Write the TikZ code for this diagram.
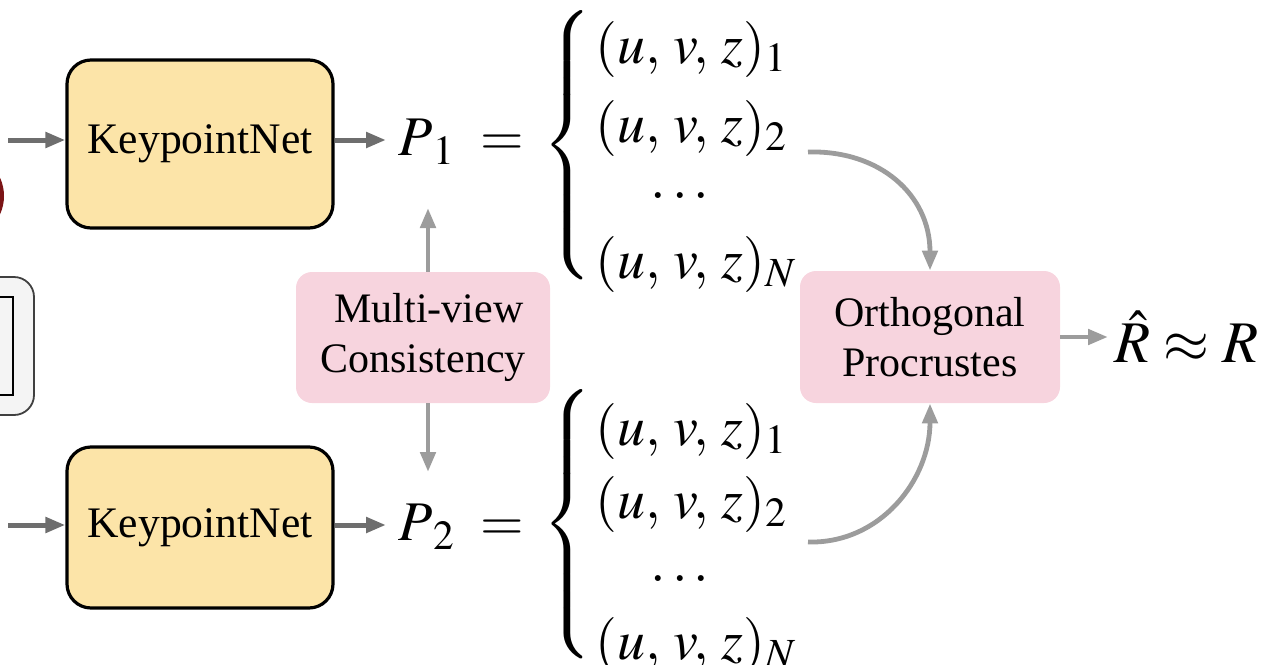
\documentclass[tikz,border=0pt]{standalone}
\usepackage{mathptmx}
\usepackage[no-math]{fontspec}
\setmainfont{Liberation Serif}
\usetikzlibrary{arrows.meta}

\definecolor{kpfill}{HTML}{FCE4A8}
\definecolor{opfill}{HTML}{F7D4DE}
\definecolor{darkgrayarrow}{HTML}{6E6E6E}
\definecolor{lightgrayarrow}{HTML}{9C9C9C}
\definecolor{panelfill}{HTML}{F4F4F4}
\definecolor{imgred}{HTML}{7B1416}

\tikzset{
  txt/.style={font=\fontsize{21}{25}\selectfont},
  mth/.style={font=\fontsize{28}{34}\selectfont, inner sep=0pt},
  netbox/.style={font=\fontsize{21.8}{26}\selectfont, draw=black,
    line width=1.6pt, fill=kpfill, rounded corners=12pt,
    minimum width=133pt, align=center},
  opbox/.style={txt, fill=opfill, rounded corners=8pt,
    minimum width=127pt, minimum height=65.5pt, align=center},
  mathrow/.style={mth, anchor=west},
  darkarrow/.style={draw=darkgrayarrow, line width=2.5pt,
    -{Triangle[length=10pt,width=7.5pt]}},
  lightarrow/.style={draw=lightgrayarrow, line width=2.4pt,
    -{Triangle[length=10pt,width=7.5pt]}},
}

\begin{document}
\begin{tikzpicture}[x=0.5pt,y=-0.5pt]
\useasboundingbox (0,0) rectangle (1266,665);
\clip (0,0) rectangle (1266,665);

% pieces of the input panel at the left edge
\fill[imgred] (-40,196) circle[radius=44];
\draw[fill=panelfill, draw=black!75, line width=0.9pt, rounded corners=10pt]
  (-60,277) rectangle (34,415);
\draw[line width=1.2pt] (0,297) -- (13,297) -- (13,395) -- (0,395);

% keypoint networks
\node[netbox, minimum height=84pt] (kp1) at (200,144) {KeypointNet};
\node[netbox, minimum height=80.5pt] (kp2) at (200,527.5) {KeypointNet};

\coordinate (in1) at (8,140);
\coordinate (in2) at (8,525);
\draw[darkarrow] (in1) -- (in1 -| kp1.west);
\draw[darkarrow] (in2) -- (in2 -| kp2.west);

% keypoint sets
\node[mth, anchor=west] (P1) at (398,142) {$P_{\kern4pt1}\;=$};
\node[mth, anchor=west] (P2) at (398,527) {$P_{\kern4pt2}\;=$};

\node[mth] (b1) at (569,146)
  {$\left\{\vrule height 61pt depth 61pt width 0pt\right.$};
\node[mth] (b2) at (569,525)
  {$\left\{\vrule height 61pt depth 61pt width 0pt\right.$};

\node[mathrow] (r11) at (595,49)  {$(u,\,v,\,z)_1$};
\node[mathrow] (r12) at (595,128) {$(u,\,v,\,z)_2$};
\node[mth] (r1d) at (680,196) {$\ldots$};
\node[mathrow] (r1N) at (595,264) {$(u,\,v,\,z)_N$};

\node[mathrow] (r21) at (595,431) {$(u,\,v,\,z)_1$};
\node[mathrow] (r22) at (595,504) {$(u,\,v,\,z)_2$};
\node[mth] (r2d) at (680,579) {$\ldots$};
\node[mathrow] (r2N) at (595,645) {$(u,\,v,\,z)_N$};

\draw[darkarrow, shorten >=6pt] (kp1.east |- 0,140) -- (P1.west |- 0,140);
\draw[darkarrow, shorten >=6pt] (kp2.east |- 0,525) -- (P2.west |- 0,525);

% consistency between the two views
\node[opbox] (mv) at (423,337.5) {\hspace*{6pt}Multi-view\\Consistency};
\coordinate (mvup) at (428,208);
\coordinate (mvdn) at (428,472);
\draw[lightarrow] (mvup |- mv.north) -- (mvup);
\draw[lightarrow] (mvdn |- mv.south) -- (mvdn);

% rotation estimate
\node[opbox, minimum width=130pt, minimum height=66pt] (op) at (930,337) {Orthogonal\\Procrustes};
\coordinate (c1) at (808,152);
\coordinate (c2) at (808,542);
\draw[lightarrow] (c1) .. controls (880,150) and (930,195) .. (op.north);
\draw[lightarrow] (c2) .. controls (880,544) and (930,480) .. (op.south);

\node[mth, font=\fontsize{29.5}{34}\selectfont, anchor=west] (R) at (1114,337) {$\hat{R} \approx R$};
\draw[lightarrow, shorten >=3pt] (op.east) -- (R.west);
\end{tikzpicture}
\end{document}
